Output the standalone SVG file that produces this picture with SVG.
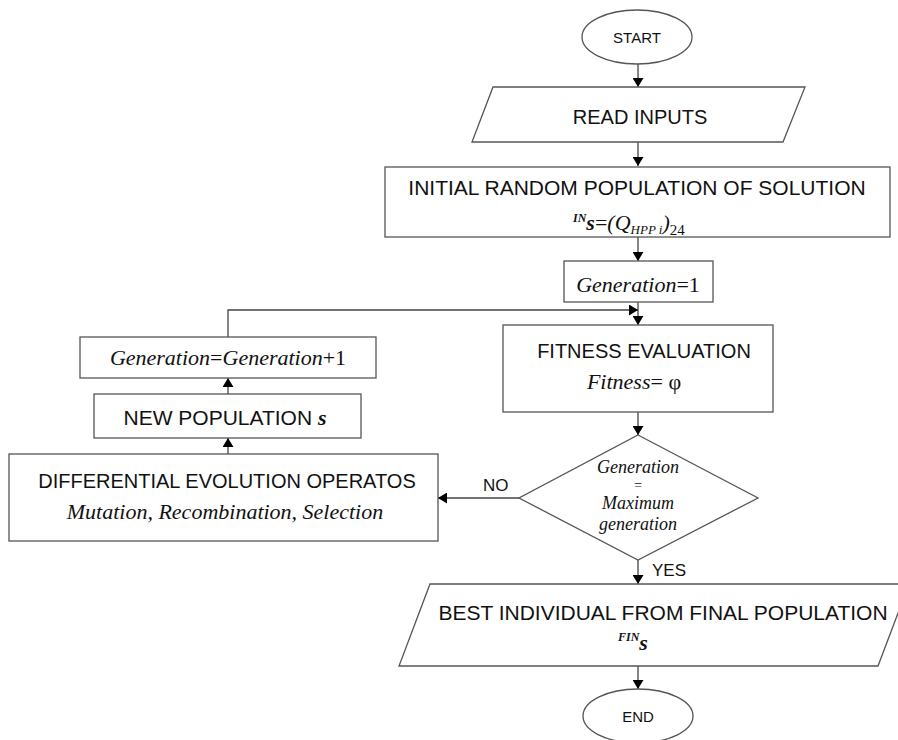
<svg xmlns="http://www.w3.org/2000/svg" width="898" height="740" viewBox="0 0 898 740">
<style>
.sh{fill:#fff;stroke:#555;stroke-width:1.3}
.ln{fill:none;stroke:#444;stroke-width:1.3}
.sans{font-family:"Liberation Sans","Open Sans",Arial,sans-serif;fill:#111}
.ser{font-family:"Liberation Serif","Times New Roman",serif;fill:#111;font-style:italic}
</style>
<defs>
<marker id="ah" viewBox="0 0 9 11" refX="9" refY="5.5" markerWidth="9" markerHeight="11" markerUnits="userSpaceOnUse" orient="auto">
<path d="M0,0 L9,5.5 L0,11 z" fill="#000"/>
</marker>
</defs>
<rect width="898" height="740" fill="#fff"/>
<g id="connectors">
<line class="ln" x1="638" y1="64" x2="638" y2="87" marker-end="url(#ah)"/>
<line class="ln" x1="638" y1="142" x2="638" y2="166" marker-end="url(#ah)"/>
<line class="ln" x1="638" y1="237" x2="638" y2="261" marker-end="url(#ah)"/>
<line class="ln" x1="638" y1="302" x2="638" y2="325" marker-end="url(#ah)"/>
<polyline class="ln" points="228,337 228,310 638,310" marker-end="url(#ah)"/>
<line class="ln" x1="638" y1="412" x2="638" y2="435" marker-end="url(#ah)"/>
<line class="ln" x1="519" y1="498" x2="438" y2="498" marker-end="url(#ah)"/>
<line class="ln" x1="638" y1="560" x2="638" y2="584" marker-end="url(#ah)"/>
<line class="ln" x1="228" y1="454" x2="228" y2="438" marker-end="url(#ah)"/>
<line class="ln" x1="228" y1="394" x2="228" y2="378" marker-end="url(#ah)"/>
<line class="ln" x1="638" y1="666" x2="638" y2="689" marker-end="url(#ah)"/>
<text class="sans" x="483" y="491" font-size="17">NO</text>
<text class="sans" x="652" y="576" font-size="17">YES</text>
</g>
<g id="start">
<ellipse class="sh" cx="637" cy="37" rx="55" ry="27"/>
<text class="sans" x="637" y="43" font-size="15" text-anchor="middle">START</text>
</g>
<g id="read">
<polygon class="sh" points="493,87 805,87 783,142 472,142"/>
<text class="sans" x="640" y="124" font-size="20" text-anchor="middle">READ INPUTS</text>
</g>
<g id="init">
<rect class="sh" x="385" y="167" width="505" height="70"/>
<text class="sans" x="637" y="195" font-size="21" text-anchor="middle">INITIAL RANDOM POPULATION OF SOLUTION</text>
<text class="ser" x="573" y="230" font-size="22"><tspan font-size="12" font-weight="bold" dy="-8">IN</tspan><tspan font-weight="bold" dy="8">s</tspan><tspan font-style="normal">=</tspan>(Q<tspan font-size="13" dy="4">HPP i</tspan><tspan dy="-4">)</tspan><tspan font-size="15" font-style="normal" dy="5">24</tspan></text>
</g>
<g id="gen1">
<rect class="sh" x="564" y="261" width="149" height="41"/>
<text class="ser" x="638" y="292" font-size="22" text-anchor="middle">Generation<tspan font-style="normal">=1</tspan></text>
</g>
<g id="fitness">
<rect class="sh" x="503" y="325" width="270" height="87"/>
<text class="sans" x="644" y="358" font-size="20" text-anchor="middle">FITNESS EVALUATION</text>
<text class="ser" x="634" y="389" font-size="22" text-anchor="middle">Fitness<tspan font-style="normal">= φ</tspan></text>
</g>
<g id="decision">
<polygon class="sh" points="638,435 758,498 638,560 519,498"/>
<text class="ser" x="638" y="473" font-size="18" text-anchor="middle">Generation</text>
<text class="ser" x="638" y="490" font-size="14" text-anchor="middle" font-style="normal">=</text>
<text class="ser" x="638" y="509" font-size="18" text-anchor="middle">Maximum</text>
<text class="ser" x="638" y="529.5" font-size="18" text-anchor="middle">generation</text>
</g>
<g id="deops">
<rect class="sh" x="9" y="454" width="429" height="87"/>
<text class="sans" x="227" y="488" font-size="20" text-anchor="middle">DIFFERENTIAL EVOLUTION OPERATOS</text>
<text class="ser" x="225" y="519" font-size="22" text-anchor="middle">Mutation, Recombination, Selection</text>
</g>
<g id="newpop">
<rect class="sh" x="94" y="394" width="267" height="44"/>
<text class="sans" x="225" y="425" font-size="21" text-anchor="middle">NEW POPULATION <tspan font-family="Liberation Serif,serif" font-style="italic" font-weight="bold" font-size="22">s</tspan></text>
</g>
<g id="geninc">
<rect class="sh" x="80" y="337" width="296" height="41"/>
<text class="ser" x="228" y="365" font-size="22" text-anchor="middle">Generation<tspan font-style="normal">=</tspan>Generation<tspan font-style="normal">+1</tspan></text>
</g>
<g id="best">
<polygon class="sh" points="430,584 909,584 878,666 399,666"/>
<text class="sans" x="663" y="620" font-size="21" text-anchor="middle">BEST INDIVIDUAL FROM FINAL POPULATION</text>
<text class="ser" x="618" y="650" font-size="22"><tspan font-size="12" font-weight="bold" dy="-9">FIN</tspan><tspan font-weight="bold" dy="9">s</tspan></text>
</g>
<g id="end">
<ellipse class="sh" cx="638" cy="716" rx="55" ry="27"/>
<text class="sans" x="638" y="722" font-size="15" text-anchor="middle">END</text>
</g>
</svg>
